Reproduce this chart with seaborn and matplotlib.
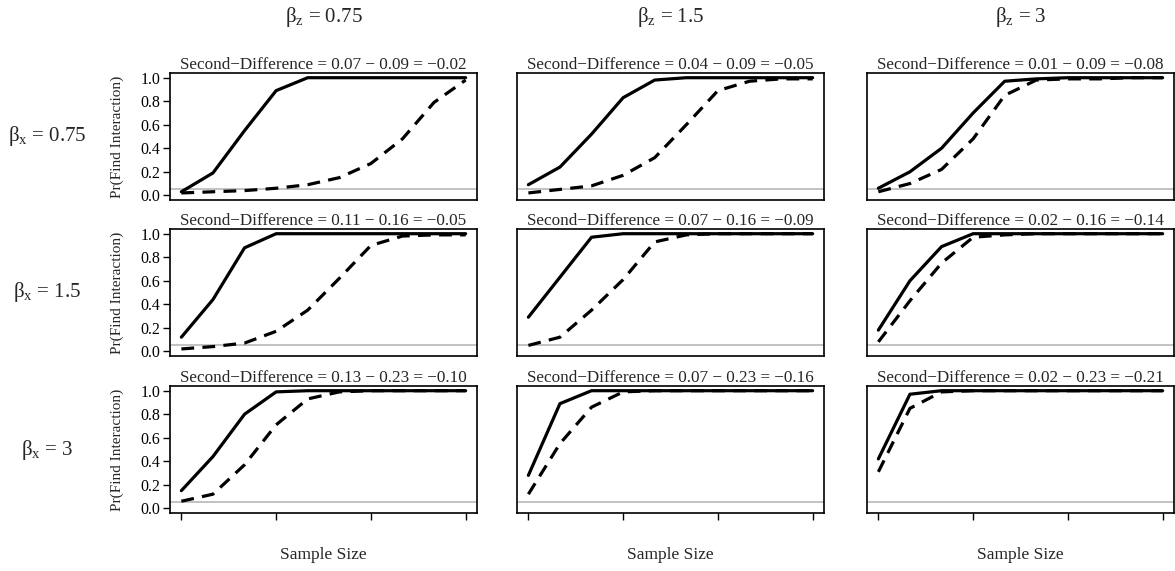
import matplotlib
matplotlib.use('Agg')
import matplotlib.pyplot as plt
import numpy as np
import pandas as pd
import seaborn as sns

# simulation settings
beta_x_levels = [0.75, 1.5, 3]
beta_z_levels = [0.75, 1.5, 3]
sample_sizes = [100, 200, 300, 400, 500, 600, 700, 800, 900, 1000]

# first differences shown in the panel titles (per row / column) and the baseline
first_diff = [[0.07, 0.04, 0.01],
              [0.11, 0.07, 0.02],
              [0.13, 0.07, 0.02]]
baseline_diff = [0.09, 0.16, 0.23]

# Pr(find interaction), solid curve and dashed curve, one list per panel
solid_x075_z075 = [0.03, 0.19, 0.55, 0.89, 1.0, 1.0, 1.0, 1.0, 1.0, 1.0]
dashed_x075_z075 = [0.02, 0.03, 0.04, 0.06, 0.09, 0.15, 0.27, 0.48, 0.79, 0.98]
solid_x075_z15 = [0.09, 0.24, 0.52, 0.83, 0.98, 1.0, 1.0, 1.0, 1.0, 1.0]
dashed_x075_z15 = [0.02, 0.05, 0.08, 0.17, 0.32, 0.60, 0.89, 0.97, 0.99, 0.99]
solid_x075_z3 = [0.06, 0.20, 0.40, 0.70, 0.97, 0.99, 1.0, 1.0, 1.0, 1.0]
dashed_x075_z3 = [0.03, 0.10, 0.22, 0.48, 0.85, 0.98, 0.99, 0.99, 1.0, 1.0]

solid_x15_z075 = [0.12, 0.44, 0.88, 1.0, 1.0, 1.0, 1.0, 1.0, 1.0, 1.0]
dashed_x15_z075 = [0.02, 0.04, 0.07, 0.17, 0.35, 0.62, 0.90, 0.98, 0.99, 0.99]
solid_x15_z15 = [0.29, 0.63, 0.97, 1.0, 1.0, 1.0, 1.0, 1.0, 1.0, 1.0]
dashed_x15_z15 = [0.05, 0.12, 0.35, 0.61, 0.93, 0.99, 1.0, 1.0, 1.0, 1.0]
solid_x15_z3 = [0.18, 0.60, 0.89, 1.0, 1.0, 1.0, 1.0, 1.0, 1.0, 1.0]
dashed_x15_z3 = [0.08, 0.43, 0.75, 0.97, 0.99, 1.0, 1.0, 1.0, 1.0, 1.0]

solid_x3_z075 = [0.15, 0.44, 0.80, 0.99, 1.0, 1.0, 1.0, 1.0, 1.0, 1.0]
dashed_x3_z075 = [0.06, 0.12, 0.37, 0.71, 0.93, 0.99, 1.0, 1.0, 1.0, 1.0]
solid_x3_z15 = [0.28, 0.89, 1.0, 1.0, 1.0, 1.0, 1.0, 1.0, 1.0, 1.0]
dashed_x3_z15 = [0.12, 0.55, 0.86, 0.99, 1.0, 1.0, 1.0, 1.0, 1.0, 1.0]
solid_x3_z3 = [0.42, 0.97, 1.0, 1.0, 1.0, 1.0, 1.0, 1.0, 1.0, 1.0]
dashed_x3_z3 = [0.31, 0.85, 0.99, 1.0, 1.0, 1.0, 1.0, 1.0, 1.0, 1.0]

panels = [
    [(solid_x075_z075, dashed_x075_z075), (solid_x075_z15, dashed_x075_z15), (solid_x075_z3, dashed_x075_z3)],
    [(solid_x15_z075, dashed_x15_z075), (solid_x15_z15, dashed_x15_z15), (solid_x15_z3, dashed_x15_z3)],
    [(solid_x3_z075, dashed_x3_z075), (solid_x3_z15, dashed_x3_z15), (solid_x3_z3, dashed_x3_z3)],
]

rows = []
for i, bx in enumerate(beta_x_levels):
    for j, bz in enumerate(beta_z_levels):
        solid, dashed = panels[i][j]
        for n, s, d in zip(sample_sizes, solid, dashed):
            rows.append({'bx': bx, 'bz': bz, 'n': n, 'pr': s, 'curve': 'solid'})
            rows.append({'bx': bx, 'bz': bz, 'n': n, 'pr': d, 'curve': 'dashed'})
df = pd.DataFrame(rows)

sns.set_style('ticks')
plt.rcParams['font.family'] = ['Liberation Serif', 'DejaVu Serif']
plt.rcParams['mathtext.fontset'] = 'custom'
plt.rcParams['mathtext.rm'] = 'Liberation Serif'
plt.rcParams['mathtext.it'] = 'Liberation Serif:italic'
plt.rcParams['axes.edgecolor'] = 'black'
plt.rcParams['xtick.color'] = 'black'
plt.rcParams['ytick.color'] = 'black'

W, H = 1175, 571
fig = plt.figure(figsize=(W / 100, H / 100), dpi=100)

col_left = [170, 517, 867]
col_width = 307
row_top = [73, 229, 386]
row_height = 127

def fmt(v):
    return f"{v:.2f}".replace('-', '\u2212')

for i, bx in enumerate(beta_x_levels):
    for j, bz in enumerate(beta_z_levels):
        ax = fig.add_axes([col_left[j] / W, 1 - (row_top[i] + row_height) / H,
                           col_width / W, row_height / H])
        sub = df[(df['bx'] == bx) & (df['bz'] == bz)]
        ax.axhline(0.05, color='#bdbdbd', lw=1.3, zorder=0)
        sns.lineplot(data=sub, x='n', y='pr', style='curve', style_order=['solid', 'dashed'],
                     dashes={'solid': '', 'dashed': (4, 2.6)}, color='black', lw=2.3,
                     legend=False, errorbar=None, ax=ax,
                     solid_capstyle='round', solid_joinstyle='round', dash_capstyle='butt')
        ax.set_xlim(64, 1036)
        ax.set_ylim(-0.04, 1.04)
        ax.set_xlabel('')
        ax.set_ylabel('')
        a = first_diff[i][j]
        b = baseline_diff[i]
        ax.set_title(f"Second\u2212Difference = {a:.2f} \u2212 {b:.2f} = {fmt(a - b)}",
                     fontsize=12.3, pad=3)
        if i == 2:
            ax.set_xticks([100, 400, 700, 1000])
            ax.set_xticklabels([])
        else:
            ax.set_xticks([])
        if j == 0:
            ax.set_yticks([0, 0.2, 0.4, 0.6, 0.8, 1.0])
            ax.set_yticklabels(['0.0', '0.2', '0.4', '0.6', '0.8', '1.0'])
            ax.set_ylabel('Pr(Find Interaction)', fontsize=11)
            ax.yaxis.set_label_coords(-0.15, 0.5)
        else:
            ax.set_yticks([])
        ax.tick_params(direction='out', length=5, width=1, labelsize=11.5, pad=2)
        for sp in ax.spines.values():
            sp.set_visible(True)
            sp.set_linewidth(1.2)

# column headers, row labels and x labels
for j, bz in enumerate(beta_z_levels):
    cx = (col_left[j] + col_width / 2) / W
    fig.text(cx, 1 - 17 / H, f"\u03b2$_{{\\rm z}}$ = {bz:g}", ha='center', va='center', fontsize=15)
    fig.text(cx, 1 - 555 / H, 'Sample Size', ha='center', va='center', fontsize=12.5)
for i, bx in enumerate(beta_x_levels):
    cy = 1 - (row_top[i] + row_height / 2) / H
    fig.text(47 / W, cy, f"\u03b2$_{{\\rm x}}$ = {bx:g}", ha='center', va='center', fontsize=15)

fig.savefig('out.png', dpi=100)
